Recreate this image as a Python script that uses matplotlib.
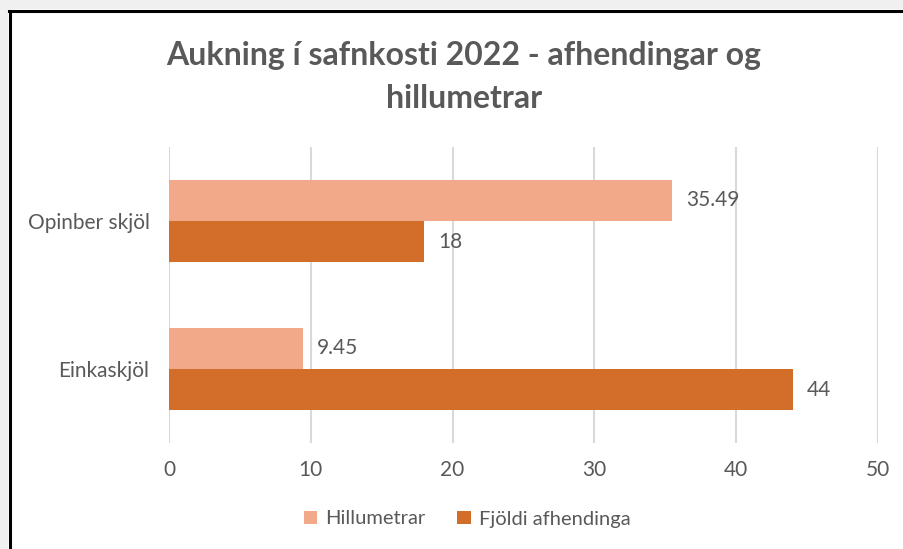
import matplotlib.pyplot as plt
from matplotlib.patches import Rectangle
from matplotlib.lines import Line2D

# data
categories = ["Einkaskjöl", "Opinber skjöl"]
hillumetrar = [9.45, 35.49]
afhendingar = [44, 18]
series_names = ["Hillumetrar", "Fjöldi afhendinga"]
xticks = [0, 10, 20, 30, 40, 50]

light = "#F1A98A"
dark = "#D26E2A"
txt = "#595959"

plt.rcParams['font.family'] = ['Lato', 'DejaVu Sans']

fig = plt.figure(figsize=(9.04, 5.49), dpi=100)
fig.patch.set_facecolor("white")

# gray screenshot margin + black frame (top and left only)
W, H = 904, 549
fig.patches.append(Rectangle((0, 1 - 9 / H), 1, 9 / H, transform=fig.transFigure,
                             facecolor="#f0f0f0", edgecolor="none", zorder=0))
fig.patches.append(Rectangle((0, 0), 8 / W, 1, transform=fig.transFigure,
                             facecolor="#f0f0f0", edgecolor="none", zorder=0))
fig.lines.append(Line2D([9 / W, 1], [1 - 10.5 / H, 1 - 10.5 / H], transform=fig.transFigure,
                        color="black", lw=2.2))
fig.lines.append(Line2D([9.5 / W, 9.5 / W], [0, 1 - 10.5 / H], transform=fig.transFigure,
                        color="black", lw=2.2))

ax = fig.add_axes([169 / W, 1 - 443 / H, (878 - 169) / W, (443 - 147) / H])

h = 0.28
y = list(range(len(categories)))
b1 = ax.barh([v + h / 2 for v in y], hillumetrar, height=h, color=light,
             label=series_names[0], zorder=3)
b2 = ax.barh([v - h / 2 for v in y], afhendingar, height=h, color=dark,
             label=series_names[1], zorder=3)

for bars, vals in ((b1, hillumetrar), (b2, afhendingar)):
    ax.bar_label(bars, labels=[f"{v:g}" for v in vals], padding=10,
                 color=txt, fontsize=15)

ax.set_xlim(0, 50)
ax.set_ylim(-0.5, 1.5)
ax.set_xticks(xticks)
ax.set_yticks(y)
ax.set_yticklabels(categories)
ax.grid(axis="x", color="#d9d9d9", lw=1.5, zorder=0)
ax.tick_params(axis="both", length=0, colors=txt, labelsize=15)
ax.tick_params(axis="x", pad=12)
ax.tick_params(axis="y", pad=14)
for s in ax.spines.values():
    s.set_visible(False)

fig.text(464 / W, 1 - 77 / H, "Aukning í safnkosti 2022 - afhendingar og\nhillumetrar",
         ha="center", va="center", fontsize=23, fontweight="bold", color=txt,
         linespacing=1.55)

ax.legend(loc="center", bbox_to_anchor=(467 / W, 1 - 519 / H),
          bbox_transform=fig.transFigure, ncol=2, frameon=False, fontsize=14.5,
          labelcolor=txt, handlelength=0.65, handleheight=0.65, handletextpad=0.4,
          columnspacing=1.6)

fig.savefig("out.png", dpi=100, facecolor=fig.get_facecolor())
